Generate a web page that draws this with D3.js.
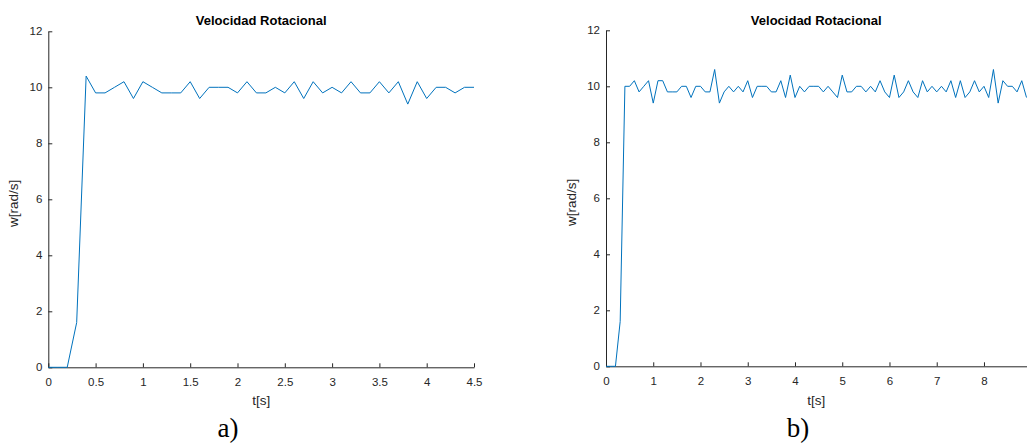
<!DOCTYPE html>
<html>
<head>
<meta charset="utf-8">
<script src="https://cdn.jsdelivr.net/npm/d3@7"></script>
<style>
  body { margin: 0; background: #fff; }
  svg { display: block; }
  .axis text { font-family: "Liberation Sans", Arial, Helvetica, sans-serif; font-size: 11.5px; fill: #262626; }
  .axis line, .axis path { stroke: #262626; stroke-width: 1; }
</style>
</head>
<body>
<svg id="chart" width="1027" height="447"></svg>
<script>
// Sampling interval of both recordings (s)
const sampleStep = 0.1;

// a) rotational speed, 0 .. 4.5 s
const speedA = [
  0, 0, 0, 1.6, 10.4, 9.8, 9.8, 10.0, 10.2, 9.6,
  10.2, 10.0, 9.8, 9.8, 9.8, 10.2, 9.6, 10.0, 10.0, 10.0,
  9.8, 10.2, 9.8, 9.8, 10.0, 9.8, 10.2, 9.6, 10.2, 9.8,
  10.0, 9.8, 10.2, 9.8, 9.8, 10.2, 9.8, 10.2, 9.4, 10.2,
  9.6, 10.0, 10.0, 9.8, 10.0, 10.0
];

// b) rotational speed, 0 .. 8.9 s
const speedB = [
  0, 0, 0, 1.6, 10.0, 10.0, 10.2, 9.8, 10.0, 10.2,
  9.4, 10.2, 10.2, 9.8, 9.8, 9.8, 10.0, 10.0, 9.6, 10.0,
  10.0, 9.8, 9.8, 10.6, 9.4, 9.8, 10.0, 9.8, 10.0, 9.8,
  10.2, 9.6, 10.0, 10.0, 10.0, 9.8, 9.8, 10.2, 9.6, 10.4,
  9.6, 10.0, 9.8, 10.0, 10.0, 10.0, 9.8, 10.0, 9.8, 9.6,
  10.4, 9.8, 9.8, 10.0, 10.0, 9.8, 10.0, 9.8, 10.2, 9.8,
  9.6, 10.4, 9.6, 9.8, 10.2, 9.8, 9.6, 10.2, 9.8, 10.0,
  9.8, 10.0, 9.8, 10.2, 9.6, 10.2, 9.6, 9.8, 10.2, 9.8,
  10.0, 9.6, 10.6, 9.4, 10.2, 10.0, 10.0, 9.8, 10.2, 9.6
];

const xTicksA = [0, 0.5, 1, 1.5, 2, 2.5, 3, 3.5, 4, 4.5];
const xTicksB = [0, 1, 2, 3, 4, 5, 6, 7, 8];
const yTicks = [0, 2, 4, 6, 8, 10, 12];

const titleText = "Velocidad Rotacional";
const xLabel = "t[s]";
const yLabel = "w[rad/s]";

const svg = d3.select("#chart");
const lineColor = "#0072BD";
const fontSans = "'Liberation Sans', Arial, Helvetica, sans-serif";

function drawPanel(cfg) {
  const x = d3.scaleLinear().domain(cfg.xDomain).range([cfg.left, cfg.right]);
  const y = d3.scaleLinear().domain([0, 12]).range([cfg.bottom, cfg.top]);

  const g = svg.append("g");

  g.append("g")
    .attr("class", "axis")
    .attr("transform", `translate(0,${cfg.bottom})`)
    .call(d3.axisBottom(x).tickValues(cfg.xTicks).tickFormat(d3.format("~g"))
      .tickSizeInner(-4).tickSizeOuter(0).tickPadding(10.5));

  g.append("g")
    .attr("class", "axis")
    .attr("transform", `translate(${cfg.left},0)`)
    .call(d3.axisLeft(y).tickValues(yTicks).tickFormat(d3.format("d"))
      .tickSizeInner(-4).tickSizeOuter(0).tickPadding(6));

  const data = cfg.values.map((v, i) => [i * sampleStep, v]);
  g.append("path")
    .datum(data)
    .attr("fill", "none")
    .attr("stroke", lineColor)
    .attr("stroke-width", 1)
    .attr("stroke-linejoin", "round")
    .attr("d", d3.line().x(d => x(d[0])).y(d => y(d[1])));

  const cx = (cfg.left + cfg.right) / 2;

  g.append("text")
    .attr("x", cx).attr("y", 25)
    .attr("text-anchor", "middle")
    .style("font-family", fontSans).style("font-size", "13px").style("font-weight", "bold")
    .attr("fill", "#000")
    .text(titleText);

  g.append("text")
    .attr("x", cx).attr("y", 405)
    .attr("text-anchor", "middle")
    .style("font-family", fontSans).style("font-size", "13.5px")
    .attr("fill", "#262626")
    .text(xLabel);

  g.append("text")
    .attr("transform", `translate(${cfg.left - 30},${(cfg.top + cfg.bottom) / 2 + 4}) rotate(-90)`)
    .attr("text-anchor", "middle")
    .style("font-family", fontSans).style("font-size", "13.5px")
    .attr("fill", "#262626")
    .text(yLabel);

  g.append("text")
    .attr("x", cfg.tagX).attr("y", 437)
    .attr("text-anchor", "middle")
    .style("font-family", "'Liberation Serif', 'Times New Roman', serif").style("font-size", "27px")
    .attr("fill", "#000")
    .text(cfg.tag);
}

drawPanel({
  values: speedA, xDomain: [0, 4.5], xTicks: xTicksA,
  left: 48.3, right: 474, top: 31.3, bottom: 367.3,
  tag: "a)", tagX: 228
});

drawPanel({
  values: speedB, xDomain: [0, 8.9], xTicks: xTicksB,
  left: 606, right: 1026.5, top: 30.3, bottom: 366.3,
  tag: "b)", tagX: 798
});
</script>
</body>
</html>
